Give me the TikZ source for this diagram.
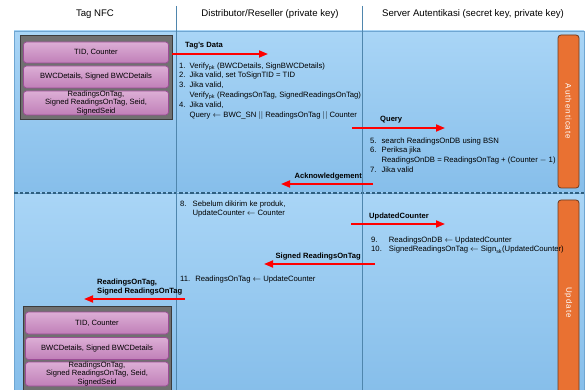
\documentclass[tikz,border=0pt]{standalone}
\usepackage{fontspec}
\setmainfont{Liberation Sans}
\usetikzlibrary{arrows.meta}
\definecolor{bgtop}{HTML}{A9D5F6}
\definecolor{bgbot}{HTML}{86BEEA}
\definecolor{bgline}{HTML}{6FA6D2}
\definecolor{colline}{HTML}{4F86AD}
\definecolor{dashc}{HTML}{2E5F80}
\definecolor{pinkf}{HTML}{D6A0CE}
\definecolor{pinkd}{HTML}{C07FB8}
\definecolor{pinkb}{HTML}{9B4D96}
\definecolor{grayf}{HTML}{707070}
\definecolor{grayb}{HTML}{3C3C3C}
\definecolor{orangef}{HTML}{E97132}
\definecolor{oranged}{HTML}{6E3A1E}
\definecolor{redarr}{HTML}{FF0000}
\tikzset{
  panel/.style={draw=bgline, line width=0.6pt, top color=bgtop, bottom color=bgbot},
  colsep/.style={draw=colline, line width=0.9pt},
  sepdash/.style={draw=dashc, line width=1.4pt, dash pattern=on 3.5pt off 2pt},
  frame/.style={draw=grayb, line width=0.8pt, fill=grayf},
  row/.style={draw=pinkb, line width=0.7pt, top color=pinkf!85!white, bottom color=pinkd, rounded corners=3pt},
  rowtext/.style={font=\fontsize{7.6}{8.2}\selectfont, align=center, inner sep=0pt},
  tab/.style={draw=oranged, line width=0.8pt, fill=orangef, rounded corners=3pt},
  tabtext/.style={font=\fontsize{8}{9}\selectfont\addfontfeature{LetterSpace=12}, text=white, rotate=-90},
  msg/.style={draw=redarr, line width=1.8pt, -{Triangle[length=9pt,width=7pt]}},
  lbl/.style={font=\bfseries\fontsize{7.6}{8.8}\selectfont, inner sep=0pt},
  steps/.style={font=\fontsize{7.7}{9.8}\selectfont, inner sep=0pt, anchor=north west, align=left},
  head/.style={font=\fontsize{9.6}{10}\selectfont, inner sep=0pt}
}
\begin{document}
\begin{tikzpicture}[x=1pt,y=-1pt]
\useasboundingbox[fill=white] (0,0) rectangle (586,390);
% panels
\path[panel] (14,31) rectangle (584,193);
\path[panel] (14,193) rectangle (584,392);
\draw[sepdash] (14,193) -- (584,193);
% column separators
\coordinate (c1t) at (176.5,6); \coordinate (c1b) at (176.5,392);
\coordinate (c2t) at (362,6); \coordinate (c2b) at (362,392);
\draw[colsep] (c1t) -- (c1b);
\draw[colsep] (c2t) -- (c2b);
% headers
\node[head] (h1) at (95,14) {Tag NFC};
\node[head] (h2) at (270,14) {Distributor/Reseller (private key)};
\node[head] (h3) at (473,14) {Server Autentikasi (secret key, private key)};
% tag top
\node[frame, minimum width=152pt, minimum height=84pt, inner sep=0pt] (tagA) at (96,77) {};
\node[row, minimum width=145pt, minimum height=21pt, inner sep=0pt] (tagA1) at (96,52.5) {};
\node[rowtext] at (tagA1) {TID, Counter};
\node[row, minimum width=145pt, minimum height=22pt, inner sep=0pt] (tagA2) at (96,77) {};
\node[rowtext] at (tagA2) {BWCDetails, Signed BWCDetails};
\node[row, minimum width=145pt, minimum height=24pt, inner sep=0pt] (tagA3) at (96,103) {};
\node[rowtext] at (tagA3) {ReadingsOnTag,\\Signed ReadingsOnTag, Seid,\\SignedSeid};
% tag bottom
\node[frame, minimum width=148pt, minimum height=90pt, inner sep=0pt] (tagB) at (97,351) {};
\node[row, minimum width=143pt, minimum height=22pt, inner sep=0pt] (tagB1) at (97,323) {};
\node[rowtext] at (tagB1) {TID, Counter};
\node[row, minimum width=143pt, minimum height=22pt, inner sep=0pt] (tagB2) at (97,348.5) {};
\node[rowtext] at (tagB2) {BWCDetails, Signed BWCDetails};
\node[row, minimum width=143pt, minimum height=24pt, inner sep=0pt] (tagB3) at (97,374) {};
\node[rowtext] at (tagB3) {ReadingsOnTag,\\Signed ReadingsOnTag, Seid,\\SignedSeid};
% orange tabs
\node[tab, minimum width=21pt, minimum height=153pt, inner sep=0pt] (tabA) at (568.5,111.5) {};
\node[tabtext] at (tabA) {Authenticate};
\node[tab, minimum width=21pt, minimum height=205pt, inner sep=0pt] (tabB) at (568.5,302.5) {};
\node[tabtext] at (tabB) {Update};
% messages
\coordinate (m1s) at (172,54); \coordinate (m1e) at (268,54);
\draw[msg] (m1s) -- (m1e);
\node[lbl, anchor=south west] (l1) at (185,49) {Tag's Data};
\coordinate (m2s) at (352,128); \coordinate (m2e) at (445,128);
\draw[msg] (m2s) -- (m2e);
\node[lbl, anchor=south west] (l2) at (380,123) {Query};
\coordinate (m3s) at (373,184); \coordinate (m3e) at (281,184);
\draw[msg] (m3s) -- (m3e);
\node[lbl, anchor=south east] (l3) at (362,180) {Acknowledgement};
\coordinate (m4s) at (351,224); \coordinate (m4e) at (445,224);
\draw[msg] (m4s) -- (m4e);
\node[lbl, anchor=south west] (l4) at (369,220) {UpdatedCounter};
\coordinate (m5s) at (375,264); \coordinate (m5e) at (264,264);
\draw[msg] (m5s) -- (m5e);
\node[lbl, anchor=south east] (l5) at (361,260) {Signed ReadingsOnTag};
\coordinate (m6s) at (185,299); \coordinate (m6e) at (84,299);
\draw[msg] (m6s) -- (m6e);
\node[lbl, anchor=south west, align=left] (l6) at (97,295) {ReadingsOnTag,\\Signed ReadingsOnTag};
% steps distributor
\node[steps] (s14) at (179,61) {%
\begin{tabular}{@{}l@{\hspace{4pt}}l@{}}
1. & Verify\textsubscript{pk} (BWCDetails, SignBWCDetails)\\
2. & Jika valid, set ToSignTID = TID\\
3. & Jika valid,\\
   & Verify\textsubscript{pk} (ReadingsOnTag, SignedReadingsOnTag)\\
4. & Jika valid,\\
   & Query $\leftarrow$ BWC\_SN $||$ ReadingsOnTag $||$ Counter
\end{tabular}};
\node[steps] (s8) at (180,199) {%
\begin{tabular}{@{}l@{\hspace{6pt}}l@{}}
8. & Sebelum dikirim ke produk,\\
   & UpdateCounter $\leftarrow$ Counter
\end{tabular}};
\node[steps] (s11) at (180,274) {%
\begin{tabular}{@{}l@{\hspace{5pt}}l@{}}
11. & ReadingsOnTag $\leftarrow$ UpdateCounter
\end{tabular}};
% steps server
\node[steps] (s57) at (370,136) {%
\begin{tabular}{@{}l@{\hspace{5pt}}l@{}}
5. & search ReadingsOnDB using BSN\\
6. & Periksa jika\\
   & ReadingsOnDB = ReadingsOnTag + (Counter $-$ 1)\\
7. & Jika valid
\end{tabular}};
\node[steps] (s910) at (371,235) {%
\begin{tabular}{@{}l@{\hspace{7pt}}l@{}}
9. & ReadingsOnDB $\leftarrow$ UpdatedCounter\\
10. & SignedReadingsOnTag $\leftarrow$ Sign\textsubscript{sk}(UpdatedCounter)
\end{tabular}};
\end{tikzpicture}
\end{document}
